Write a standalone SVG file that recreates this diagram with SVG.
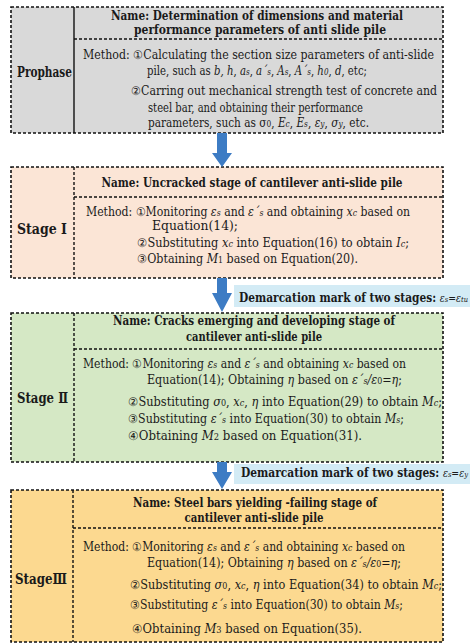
<svg xmlns="http://www.w3.org/2000/svg" width="470" height="644" viewBox="0 0 470 644">
  <style>
    text { font-family: "DejaVu Serif", serif; font-size: 12px; fill: #1a1a1a; }
    .title { font-weight: bold; font-size: 12.5px; text-anchor: middle; }
    .stage { font-weight: bold; font-size: 14px; }
    .mark { font-weight: bold; font-size: 12px; }
    .it { font-style: italic; }
    .sub { font-size: 8.5px; font-style: italic; }
    .up { font-size: 8.5px; font-style: normal; }
    .eps { font-size: 10.5px; font-style: italic; font-weight: normal; }
    .es { font-size: 7.5px; font-style: italic; font-weight: normal; }
    .box { stroke: #111; stroke-width: 1.6; stroke-dasharray: 3 2; }
    .div { stroke: #111; stroke-width: 1.4; stroke-dasharray: 3 2; fill: none; }
    .solid { stroke: #111; stroke-width: 1.4; fill: none; }
    .arrow { fill: #3d7cc4; }
    .label { fill: #d3ebf5; }
  </style>

  <!-- Prophase -->
  <g id="prophase">
    <rect class="box" x="11" y="7" width="432" height="126" fill="#d9d9d9"/>
    <line class="solid" x1="74" y1="7" x2="74" y2="133"/>
    <line class="div" x1="74" y1="39" x2="443" y2="39"/>
    <text class="stage" x="17" y="77" textLength="55" lengthAdjust="spacingAndGlyphs">Prophase</text>
    <text class="title" x="257" y="20" textLength="292" lengthAdjust="spacingAndGlyphs">Name: Determination of dimensions and material</text>
    <text class="title" x="260" y="34" textLength="252" lengthAdjust="spacingAndGlyphs">performance parameters of anti slide pile</text>
    <text x="83" y="59" textLength="351" lengthAdjust="spacingAndGlyphs">Method: ①Calculating the section size parameters of anti-slide</text>
    <text x="147" y="75" textLength="220" lengthAdjust="spacingAndGlyphs">pile, such as <tspan class="it">b, h</tspan>, <tspan class="it">a</tspan><tspan class="sub">s</tspan>, <tspan class="it">a´</tspan><tspan class="sub">s</tspan>, <tspan class="it">A</tspan><tspan class="sub">s</tspan>, <tspan class="it">A´</tspan><tspan class="sub">s</tspan>, <tspan class="it">h</tspan><tspan class="sub">0</tspan>, <tspan class="it">d</tspan>, etc;</text>
    <text x="131" y="95" textLength="306" lengthAdjust="spacingAndGlyphs">②Carring out mechanical strength test of concrete and</text>
    <text x="148" y="112" textLength="215" lengthAdjust="spacingAndGlyphs">steel bar, and obtaining their performance</text>
    <text x="148" y="127" textLength="221" lengthAdjust="spacingAndGlyphs">parameters, such as σ<tspan class="up">0</tspan>, <tspan class="it">E</tspan><tspan class="sub">c</tspan>, <tspan class="it">E</tspan><tspan class="sub">s</tspan>, <tspan class="it">ε</tspan><tspan class="sub">y</tspan>, <tspan class="it">σ</tspan><tspan class="sub">y</tspan>, etc.</text>
  </g>

  <!-- Stage I -->
  <g id="stage1">
    <rect class="box" x="11" y="167" width="432" height="111" fill="#fbe5d6"/>
    <line class="div" x1="74" y1="167" x2="74" y2="278"/>
    <line class="div" x1="74" y1="197" x2="443" y2="197"/>
    <text class="stage" x="17" y="234" textLength="50" lengthAdjust="spacingAndGlyphs">Stage Ⅰ</text>
    <text class="title" x="252" y="187" textLength="301" lengthAdjust="spacingAndGlyphs">Name: Uncracked stage of cantilever anti-slide pile</text>
    <text x="86" y="216" textLength="324" lengthAdjust="spacingAndGlyphs">Method: ①Monitoring <tspan class="it">ε</tspan><tspan class="sub">s</tspan> and <tspan class="it">ε´</tspan><tspan class="sub">s</tspan> and obtaining <tspan class="it">x</tspan><tspan class="sub">c</tspan> based on</text>
    <text x="152" y="230" textLength="86" lengthAdjust="spacingAndGlyphs">Equation(14);</text>
    <text x="137" y="247" textLength="272" lengthAdjust="spacingAndGlyphs">②Substituting <tspan class="it">x</tspan><tspan class="sub">c</tspan> into Equation(16) to obtain <tspan class="it">I</tspan><tspan class="sub">c</tspan>;</text>
    <text x="137" y="263" textLength="221" lengthAdjust="spacingAndGlyphs">③Obtaining <tspan class="it">M</tspan><tspan class="up">1</tspan> based on Equation(20).</text>
  </g>

  <!-- Stage II -->
  <g id="stage2">
    <rect class="box" x="11" y="313" width="432" height="149" fill="#d5e8c5"/>
    <line class="div" x1="74" y1="313" x2="74" y2="462"/>
    <line class="div" x1="74" y1="349" x2="443" y2="349"/>
    <text class="stage" x="17" y="403" textLength="51" lengthAdjust="spacingAndGlyphs">Stage Ⅱ</text>
    <text class="title" x="254" y="325" textLength="282" lengthAdjust="spacingAndGlyphs">Name: Cracks emerging and developing stage of</text>
    <text class="title" x="254" y="341" textLength="136" lengthAdjust="spacingAndGlyphs">cantilever anti-slide pile</text>
    <text x="83" y="368" textLength="323" lengthAdjust="spacingAndGlyphs">Method: ①Monitoring <tspan class="it">ε</tspan><tspan class="sub">s</tspan> and <tspan class="it">ε´</tspan><tspan class="sub">s</tspan> and obtaining <tspan class="it">x</tspan><tspan class="sub">c</tspan> based on</text>
    <text x="147" y="384" textLength="255" lengthAdjust="spacingAndGlyphs">Equation(14);  Obtaining <tspan class="it">η</tspan> based on <tspan class="it">ε´</tspan><tspan class="sub">s</tspan><tspan class="it">/ε</tspan><tspan class="up">0</tspan><tspan class="it">=η</tspan>;</text>
    <text x="128" y="406" textLength="314" lengthAdjust="spacingAndGlyphs">②Substituting <tspan class="it">σ</tspan><tspan class="up">0</tspan>, <tspan class="it">x</tspan><tspan class="sub">c</tspan>, <tspan class="it">η</tspan> into Equation(29) to obtain <tspan class="it">M</tspan><tspan class="sub">c</tspan>;</text>
    <text x="128" y="423" textLength="276" lengthAdjust="spacingAndGlyphs">③Substituting <tspan class="it">ε´</tspan><tspan class="sub">s</tspan> into Equation(30) to obtain <tspan class="it">M</tspan><tspan class="sub">s</tspan>;</text>
    <text x="128" y="440" textLength="234" lengthAdjust="spacingAndGlyphs">④Obtaining <tspan class="it">M</tspan><tspan class="up">2</tspan> based on Equation(31).</text>
  </g>

  <!-- Stage III -->
  <g id="stage3">
    <rect class="box" x="11" y="490" width="432" height="152" fill="#fcd990"/>
    <line class="div" x1="73" y1="490" x2="73" y2="642"/>
    <line class="div" x1="73" y1="528" x2="443" y2="528"/>
    <text class="stage" x="15" y="584" textLength="52" lengthAdjust="spacingAndGlyphs">StageⅢ</text>
    <text class="title" x="255" y="507" textLength="244" lengthAdjust="spacingAndGlyphs">Name: Steel bars yielding -failing stage of</text>
    <text class="title" x="254" y="522" textLength="139" lengthAdjust="spacingAndGlyphs">cantilever anti-slide pile</text>
    <text x="83" y="551" textLength="322" lengthAdjust="spacingAndGlyphs">Method: ①Monitoring <tspan class="it">ε</tspan><tspan class="sub">s</tspan> and <tspan class="it">ε´</tspan><tspan class="sub">s</tspan> and obtaining <tspan class="it">x</tspan><tspan class="sub">c</tspan> based on</text>
    <text x="147" y="567" textLength="254" lengthAdjust="spacingAndGlyphs">Equation(14);  Obtaining <tspan class="it">η</tspan> based on <tspan class="it">ε´</tspan><tspan class="sub">s</tspan><tspan class="it">/ε</tspan><tspan class="up">0</tspan><tspan class="it">=η</tspan>;</text>
    <text x="130" y="589" textLength="312" lengthAdjust="spacingAndGlyphs">②Substituting <tspan class="it">σ</tspan><tspan class="up">0</tspan>, <tspan class="it">x</tspan><tspan class="sub">c</tspan>, <tspan class="it">η</tspan> into Equation(34) to obtain <tspan class="it">M</tspan><tspan class="sub">c</tspan>;</text>
    <text x="130" y="609" textLength="273" lengthAdjust="spacingAndGlyphs">③Substituting <tspan class="it">ε´</tspan><tspan class="sub">s</tspan> into Equation(30) to obtain <tspan class="it">M</tspan><tspan class="sub">s</tspan>;</text>
    <text x="132" y="633" textLength="230" lengthAdjust="spacingAndGlyphs">④Obtaining <tspan class="it">M</tspan><tspan class="up">3</tspan> based on Equation(35).</text>
  </g>

  <!-- Connectors: block arrows with stage boundary labels -->
  <g id="connectors">
    <path class="arrow" d="M217,133 H227 V153 H232 L222,167 L212,153 H217 Z"/>
    <path class="arrow" d="M217,278 H227 V293 H232 L222,312 L212,293 H217 Z"/>
    <path class="arrow" d="M217,462 H227 V472 H232 L222,489 L212,472 H217 Z"/>
    <rect class="label" x="234" y="285" width="236" height="22"/>
    <text class="mark" x="239" y="302" textLength="229" lengthAdjust="spacingAndGlyphs">Demarcation mark of two stages: <tspan class="eps">ε</tspan><tspan class="es">s</tspan><tspan font-weight="normal" font-size="10.5px">=</tspan><tspan class="eps">ε</tspan><tspan class="es">tu</tspan></text>
    <rect class="label" x="234" y="464" width="236" height="20"/>
    <text class="mark" x="241" y="477" textLength="227" lengthAdjust="spacingAndGlyphs">Demarcation mark of two stages: <tspan class="eps">ε</tspan><tspan class="es">s</tspan><tspan font-weight="normal" font-size="10.5px">=</tspan><tspan class="eps">ε</tspan><tspan class="es">y</tspan></text>
  </g>
</svg>
